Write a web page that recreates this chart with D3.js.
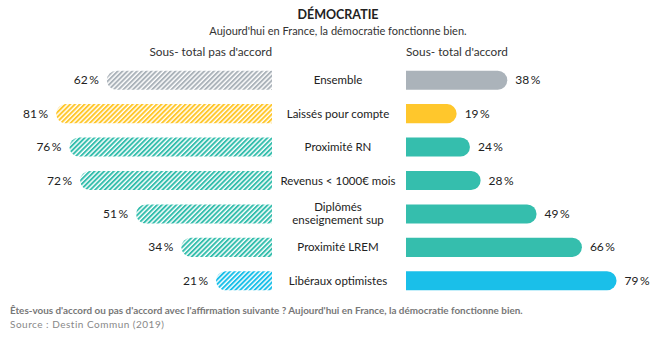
<!DOCTYPE html>
<html>
<head>
<meta charset="utf-8">
<script src="https://cdn.jsdelivr.net/npm/d3@7"></script>
<style>
  body { margin: 0; background: #fff; }
  svg { display: block; font-family: Lato, "Noto Sans", sans-serif; }
</style>
</head>
<body>
<svg id="chart" width="660" height="344"></svg>
<script>
// Survey groups and their answers
const categories = ["Ensemble", "Laissés pour compte", "Proximité RN", "Revenus < 1000€ mois",
  "Diplômés\nenseignement sup", "Proximité LREM", "Libéraux optimistes"];
const disagree = [62, 81, 76, 72, 51, 34, 21];
const agree = [38, 19, 24, 28, 49, 66, 79];
const colors = ["#abb3ba", "#ffc72c", "#35bead", "#35bead", "#35bead", "#35bead", "#1abfe9"];

const svg = d3.select("#chart");
const midLeft = 272, midRight = 406;
const unit = 2.665; // pixels per percentage point

const xL = d3.scaleLinear().domain([0, 100]).range([midLeft, midLeft - 100 * unit]);
const xR = d3.scaleLinear().domain([0, 100]).range([midRight, midRight + 100 * unit]);
const y = d3.scaleBand().domain(categories).range([64, 297]).paddingInner(0.43).paddingOuter(0.2);

// Hatch patterns, one per colour
const defs = svg.append("defs");
const uniqueColors = Array.from(new Set(colors));
const hw = 3.4;
uniqueColors.forEach((c, i) => {
  const p = defs.append("pattern")
    .attr("id", "hatch" + i)
    .attr("patternUnits", "userSpaceOnUse")
    .attr("width", hw).attr("height", hw)
    .attr("patternTransform", "rotate(45)");
  p.append("rect").attr("width", hw).attr("height", hw).attr("fill", "#fff");
  p.append("rect").attr("x", 0).attr("width", hw * 0.58).attr("height", hw).attr("fill", c);
});
const hatchId = c => "url(#hatch" + uniqueColors.indexOf(c) + ")";

// Titles
svg.append("text").attr("x", 338).attr("y", 19).attr("text-anchor", "middle")
  .attr("font-size", 12.5).attr("font-weight", 700).attr("fill", "#222").text("DÉMOCRATIE");
svg.append("text").attr("x", 338).attr("y", 35).attr("text-anchor", "middle")
  .attr("font-size", 11).attr("fill", "#333").text("Aujourd'hui en France, la démocratie fonctionne bien.");
svg.append("text").attr("x", midLeft).attr("y", 56).attr("text-anchor", "end")
  .attr("font-size", 11.8).attr("fill", "#333").text("Sous- total pas d'accord");
svg.append("text").attr("x", midRight).attr("y", 56).attr("text-anchor", "start")
  .attr("font-size", 11.8).attr("fill", "#333").text("Sous- total d'accord");

const bh = y.bandwidth();
const r = bh / 2;

// Path for a bar rounded on one side only
function leftBar(x0, x1, yy) {
  return `M${x1},${yy}H${x0 + r}A${r},${r} 0 0 0 ${x0 + r},${yy + bh}H${x1}Z`;
}
function rightBar(x0, x1, yy) {
  return `M${x0},${yy}H${x1 - r}A${r},${r} 0 0 1 ${x1 - r},${yy + bh}H${x0}Z`;
}

const rows = svg.append("g").selectAll("g").data(categories).join("g");

rows.append("path")
  .attr("d", (d, i) => leftBar(xL(disagree[i]), xL(0), y(d)))
  .attr("fill", (d, i) => hatchId(colors[i]));

rows.append("path")
  .attr("d", (d, i) => rightBar(xR(0), xR(agree[i]), y(d)))
  .attr("fill", (d, i) => colors[i]);

rows.append("text")
  .attr("x", (d, i) => xL(disagree[i]) - 8)
  .attr("y", d => y(d) + bh / 2 + 4)
  .attr("text-anchor", "end").attr("font-size", 12).attr("fill", "#222")
  .text((d, i) => disagree[i] + "\u2009%");

rows.append("text")
  .attr("x", (d, i) => xR(agree[i]) + 8)
  .attr("y", d => y(d) + bh / 2 + 4)
  .attr("text-anchor", "start").attr("font-size", 12).attr("fill", "#222")
  .text((d, i) => agree[i] + "\u2009%");

rows.append("text")
  .attr("x", 338)
  .attr("text-anchor", "middle").attr("font-size", 11.5).attr("fill", "#222")
  .each(function(d) {
    const lines = d.split("\n");
    const t = d3.select(this);
    const cy = y(d) + bh / 2 + 4 - (lines.length - 1) * 6.5;
    lines.forEach((l, k) => t.append("tspan").attr("x", 338).attr("y", cy + k * 13).text(l));
  });

// Footer
svg.append("text").attr("x", 10).attr("y", 314).attr("font-size", 9.9).attr("font-weight", 700)
  .attr("fill", "#777").text("Êtes-vous d'accord ou pas d'accord avec l'affirmation suivante ? Aujourd'hui en France, la démocratie fonctionne bien.");
svg.append("text").attr("x", 10).attr("y", 328).attr("font-size", 10).attr("letter-spacing", 0.5)
  .attr("fill", "#888").text("Source : Destin Commun (2019)");
</script>
</body>
</html>
